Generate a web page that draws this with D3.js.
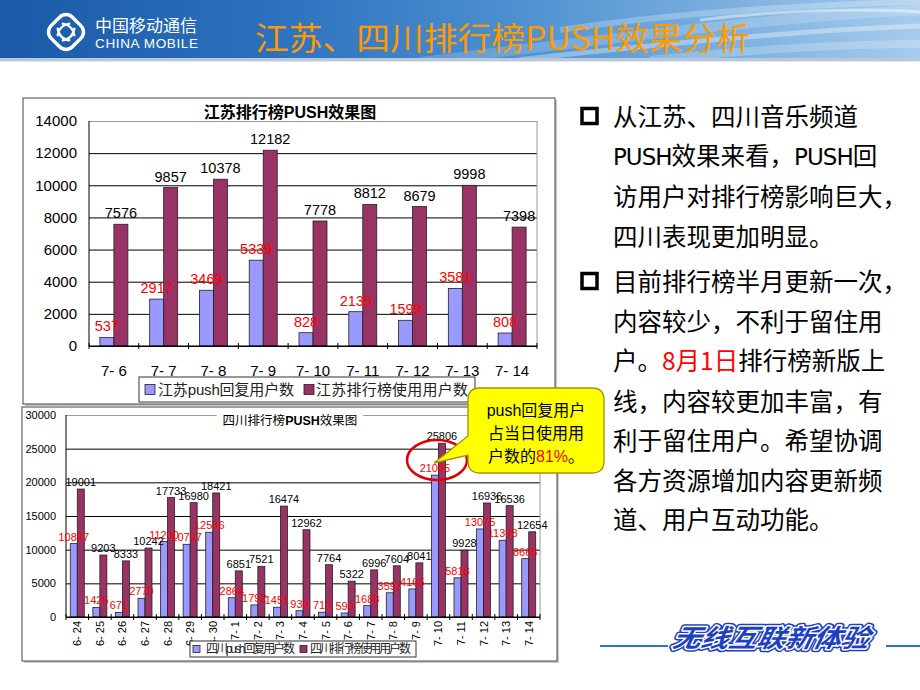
<!DOCTYPE html>
<html><head><meta charset="utf-8">
<script src="https://cdn.jsdelivr.net/npm/d3@7"></script>
<style>body{margin:0;background:#fff}svg{display:block}</style>
</head><body>
<svg id="c" width="920" height="690"></svg>
<script>
// ---- data ----
const jsDates = ["7-6","7-7","7-8","7-9","7-10","7-11","7-12","7-13","7-14"];
const jsPush  = [537,2917,3469,5339,828,2135,1599,3581,808];
const jsUsers = [7576,9857,10378,12182,7778,8812,8679,9998,7398];
const jsTicks = [0,2000,4000,6000,8000,10000,12000,14000];

const scDates = ["6-24","6-25","6-26","6-27","6-28","6-29","6-30","7-1","7-2","7-3","7-4","7-5","7-6","7-7","7-8","7-9","7-10","7-11","7-12","7-13","7-14"];
const scPush  = [10897,1425,671,2779,11200,10797,12586,2864,1792,1451,939,710,590,1688,3597,4165,21065,5818,13075,11398,8665];
const scUsers = [19001,9203,8333,10242,17733,16980,18421,6851,7521,16474,12962,7764,5322,6996,7604,8041,25806,9928,16936,16536,12654];
const scTicks = [0,5000,10000,15000,20000,25000,30000];

const seriesNames = {
  js: ["江苏push回复用户数","江苏排行榜使用用户数"],
  sc: ["四川push回复用户数","四川排行榜使用用户数"]
};

const svg = d3.select("#c");
const F = "'Liberation Sans', Arial, 'Noto Sans CJK SC', sans-serif";
const CJK = "'Noto Sans CJK SC', sans-serif";
const BLUE = "#9999FF", PLUM = "#993366";

// ---- header ----
const defs = svg.append("defs");
const hg = defs.append("linearGradient").attr("id","hg").attr("x1","0").attr("x2","1");
[["0%","#1a5aa6"],["28%","#2a6fbd"],["55%","#4b8fd0"],["80%","#7db1e0"],["100%","#a7cbec"]]
  .forEach(s=>hg.append("stop").attr("offset",s[0]).attr("stop-color",s[1]));
svg.append("rect").attr("x",0).attr("y",0).attr("width",920).attr("height",60).attr("fill","url(#hg)");
const sw = [
  ["M 420 62 C 600 40, 760 18, 920 10", 10, 0.18],
  ["M 500 62 C 650 45, 800 30, 920 26", 5, 0.35],
  ["M 560 30 C 680 12, 820 4, 920 2", 6, 0.25],
  ["M 650 60 C 760 48, 860 44, 920 44", 8, 0.22],
  ["M 700 20 C 780 10, 860 8, 920 12", 3, 0.45]
];
sw.forEach(s=>svg.append("path").attr("d",s[0]).attr("fill","none").attr("stroke","#fff").attr("stroke-width",s[1]).attr("opacity",s[2]));
svg.append("rect").attr("x",0).attr("y",58).attr("width",920).attr("height",3).attr("fill","#b8c8d8");
svg.append("rect").attr("x",0).attr("y",61).attr("width",920).attr("height",1).attr("fill","#e4e8ee");

// logo
const lg = svg.append("g").attr("transform","translate(66,32) rotate(45)");
lg.append("rect").attr("x",-15).attr("y",-15).attr("width",30).attr("height",30).attr("rx",9)
  .attr("fill","none").attr("stroke","#fff").attr("stroke-width",3.5);
lg.append("path").attr("d","M -9 -3 Q 0 -10 9 -3 M -9 3 Q 0 10 9 3 M -3 -9 Q -10 0 -3 9 M 3 -9 Q 10 0 3 9")
  .attr("fill","none").attr("stroke","#fff").attr("stroke-width",2.2);
svg.append("text").attr("x",95).attr("y",32).attr("font-family",CJK).attr("font-size",17)
  .attr("textLength",102).attr("fill","#fff").text("中国移动通信");
svg.append("text").attr("x",95).attr("y",48).attr("font-family",F).attr("font-size",13.5)
  .attr("textLength",103).attr("fill","#fff").text("CHINA MOBILE");
svg.append("text").attr("x",255).attr("y",50).attr("font-family",CJK).attr("font-size",32)
  .attr("textLength",495).attr("lengthAdjust","spacingAndGlyphs").attr("fill","#FF9900").text("江苏、四川排行榜PUSH效果分析");

// ---- generic chart ----
function chart(o){
  const g = svg.append("g");
  // outer box
  g.append("rect").attr("x",o.box[0]+2).attr("y",o.box[1]+2).attr("width",o.box[2]-o.box[0]).attr("height",o.box[3]-o.box[1]).attr("fill","#c8c8c8");
  g.append("rect").attr("x",o.box[0]).attr("y",o.box[1]).attr("width",o.box[2]-o.box[0]).attr("height",o.box[3]-o.box[1])
    .attr("fill","#fff").attr("stroke","#444").attr("stroke-width",1);
  const x = d3.scaleBand().domain(o.dates).range([o.left,o.right]);
  const y = d3.scaleLinear().domain([0,o.max]).range([o.bottom,o.top]);
  // grid
  const ga = g.append("g").attr("transform",`translate(${o.left},0)`)
    .call(d3.axisLeft(y).tickValues(o.ticks).tickSize(-(o.right-o.left)).tickPadding(o.tickPad).tickFormat(d3.format("d")));
  ga.select(".domain").remove();
  ga.selectAll(".tick line").attr("stroke",d=>d===o.max?"#999":"#000").attr("stroke-width",1);
  ga.selectAll(".tick text").attr("font-family",F).attr("font-size",o.tickFont).attr("fill","#000");
  // frame right + left axis
  g.append("line").attr("x1",o.right).attr("x2",o.right).attr("y1",o.top).attr("y2",o.bottom).attr("stroke","#999");
  g.append("line").attr("x1",o.left).attr("x2",o.left).attr("y1",o.top).attr("y2",o.bottom).attr("stroke","#000");
  // category ticks
  const edges = o.dates.map(d=>x(d)).concat([o.right]);
  g.selectAll(".ct").data(edges).join("line").attr("x1",d=>d).attr("x2",d=>d)
    .attr("y1",o.bottom-3).attr("y2",o.bottom+3).attr("stroke","#000");
  const bw = o.bw;
  // bars
  g.selectAll(".b1").data(o.dates).join("rect")
    .attr("x",d=>x(d)+x.bandwidth()/2-bw).attr("width",bw)
    .attr("y",(d,i)=>y(o.push[i])).attr("height",(d,i)=>o.bottom-y(o.push[i]))
    .attr("fill",BLUE).attr("stroke","#222").attr("stroke-width",0.8);
  g.selectAll(".b2").data(o.dates).join("rect")
    .attr("x",d=>x(d)+x.bandwidth()/2).attr("width",bw)
    .attr("y",(d,i)=>y(o.users[i])).attr("height",(d,i)=>o.bottom-y(o.users[i]))
    .attr("fill",PLUM).attr("stroke","#222").attr("stroke-width",0.8);
  // axis line
  g.append("line").attr("x1",o.left).attr("x2",o.right).attr("y1",o.bottom).attr("y2",o.bottom).attr("stroke","#000");
  // value labels
  g.selectAll(".l2").data(o.dates).join("text")
    .attr("x",d=>x(d)+x.bandwidth()/2+bw/2).attr("y",(d,i)=>y(o.users[i])-o.lblOff)
    .attr("text-anchor","middle").attr("font-family",F).attr("font-size",o.lblFont).attr("fill","#000")
    .text((d,i)=>o.users[i]);
  g.selectAll(".l1").data(o.dates).join("text")
    .attr("x",d=>x(d)+x.bandwidth()/2-bw/2).attr("y",(d,i)=>y(o.push[i])-o.lblOff)
    .attr("text-anchor","middle").attr("font-family",F).attr("font-size",o.lblFont).attr("fill","#FF0000")
    .text((d,i)=>o.push[i]);
  // x labels
  if(o.rotate){
    g.selectAll(".xl").data(o.dates).join("text")
      .attr("transform",d=>`translate(${x(d)+x.bandwidth()/2+4},${o.bottom+4}) rotate(-90)`)
      .attr("text-anchor","end").attr("font-family",F).attr("font-size",o.xFont).attr("fill","#000")
      .text(d=>d.replace("-","- "));
  } else {
    g.selectAll(".xl").data(o.dates).join("text")
      .attr("x",d=>x(d)+x.bandwidth()/2).attr("y",o.xLabelY)
      .attr("text-anchor","middle").attr("font-family",F).attr("font-size",o.xFont).attr("fill","#000")
      .text(d=>d.replace("-","- "));
  }
  // title
  const t = g.append("text").attr("x",o.titleX).attr("y",o.titleY).attr("text-anchor","middle")
    .attr("font-family",F).attr("font-size",o.titleFont).attr("font-weight",o.titleBold?"bold":"normal").attr("fill","#000");
  t.append("tspan").text(o.title[0]);
  t.append("tspan").attr("font-weight","bold").text("PUSH");
  t.append("tspan").text(o.title[1]);
  const bb = t.node().getBBox();
  g.insert("rect",()=>t.node()).attr("x",bb.x-6).attr("y",bb.y).attr("width",bb.width+12).attr("height",bb.height).attr("fill","#fff");
  // legend
  const L = o.legend;
  g.append("rect").attr("x",L.x).attr("y",L.y).attr("width",L.w).attr("height",L.h).attr("fill","#fff").attr("stroke","#333");
  L.items.forEach((it,i)=>{
    g.append("rect").attr("x",it.sx).attr("y",L.y+(L.h-L.sw)/2).attr("width",L.sw).attr("height",L.sw)
      .attr("fill",i?PLUM:BLUE).attr("stroke","#222").attr("stroke-width",0.8);
    g.append("text").attr("x",it.tx).attr("y",L.y+L.h/2+L.font*0.36).attr("font-family",F).attr("font-size",L.font)
      .attr("fill","#222").attr("textLength",it.tw).text(o.names[i]);
  });
  return {x,y};
}

chart({
  box:[23,98,555,404], dates:jsDates, push:jsPush, users:jsUsers, ticks:jsTicks, max:14000,
  left:89, right:537, top:121, bottom:346, tickPad:12, tickFont:15, bw:14,
  lblFont:14.5, lblOff:6, xFont:15, xLabelY:376, rotate:false,
  title:["江苏排行榜","效果图"], titleX:290, titleY:118, titleFont:16, titleBold:true,
  names:seriesNames.js,
  legend:{x:139,y:377,w:336,h:25,sw:10,font:15,items:[{sx:145,tx:158,tw:136},{sx:304,tx:316,tw:152}]}
});

const sc = chart({
  box:[22,407,557,661], dates:scDates, push:scPush, users:scUsers, ticks:scTicks, max:30000,
  left:66, right:540, top:415, bottom:617, tickPad:10, tickFont:11, bw:7,
  lblFont:11, lblOff:3, xFont:11, rotate:true,
  title:["四川排行榜","效果图"], titleX:290, titleY:425, titleFont:12.5, titleBold:false,
  names:seriesNames.sc,
  legend:{x:190,y:641,w:226,h:16,sw:7,font:12,items:[{sx:193,tx:206,tw:89},{sx:300,tx:310,tw:101}]}
});

// ---- annotation ----
svg.append("ellipse").attr("cx",437).attr("cy",460).attr("rx",30).attr("ry",20)
  .attr("fill","none").attr("stroke","#E00000").attr("stroke-width",2.5);
svg.append("path")
  .attr("d","M 480 388 H 592 Q 604 388 604 400 V 461 Q 604 473 592 473 H 480 Q 468 473 468 461 V 455 L 434 463 L 468 436 V 400 Q 468 388 480 388 Z")
  .attr("fill","#FFFF00").attr("stroke","#a89000").attr("stroke-width",1.3);
const cl = [["push回复用户"],["占当日使用用"],["户数的","81%","。"]];
cl.forEach((parts,i)=>{
  const t = svg.append("text").attr("x",536).attr("y",416+i*23).attr("text-anchor","middle")
    .attr("font-family",F).attr("font-size",16).attr("fill","#000");
  parts.forEach((p,j)=>t.append("tspan").attr("fill",(i===2&&j===1)?"#FF0000":"#000").text(p));
});

// ---- right text ----
const lines = [
  [["从江苏、四川音乐频道"]],
  [["PUSH","L"],["效果来看，"],["PUSH","L"],["回"]],
  [["访用户对排行榜影响巨大，"]],
  [["四川表现更加明显。"]],
  [["目前排行榜半月更新一次，"]],
  [["内容较少，不利于留住用"]],
  [["户。"],["8月1日","R"],["排行榜新版上"]],
  [["线，内容较更加丰富，有"]],
  [["利于留住用户。希望协调"]],
  [["各方资源增加内容更新频"]],
  [["道、用户互动功能。"]]
];
const ly = [117,156,197,237,282,322,361,402,441,481,520];
lines.forEach((parts,i)=>{
  const t = svg.append("text").attr("x",613).attr("y",ly[i]+9).attr("font-family",CJK).attr("font-size",24.5).attr("fill","#000");
  parts.forEach(p=>{
    const s = t.append("tspan").text(p[0]);
    if(p[1]==="L") s.attr("font-family","'DejaVu Sans', sans-serif").attr("font-size",23).attr("letter-spacing",-1);
    if(p[1]==="R") s.attr("fill","#FF0000");
  });
});
[116,281].forEach(cy=>svg.append("rect").attr("x",582).attr("y",cy-7.5).attr("width",15).attr("height",15)
  .attr("fill","none").attr("stroke","#000").attr("stroke-width",3.5));

// ---- footer ----
svg.append("line").attr("x1",600).attr("x2",668).attr("y1",646).attr("y2",646).attr("stroke","#2a78b8").attr("stroke-width",2);
svg.append("line").attr("x1",886).attr("x2",920).attr("y1",646).attr("y2",646).attr("stroke","#2a78b8").attr("stroke-width",2);
[["#1d3fc4",6,"none"],["#fff",3,"none"],["none",0,"#1d3fc4"]].forEach(s=>{
  svg.append("text").attr("x",672).attr("y",647).attr("font-family",CJK).attr("font-weight","bold")
    .attr("font-style","italic").attr("font-size",25).attr("textLength",196).attr("lengthAdjust","spacingAndGlyphs")
    .attr("transform","skewX(-12) translate(137,0)")
    .attr("fill",s[2]).attr("stroke",s[0]).attr("stroke-width",s[1]).attr("stroke-linejoin","round")
    .text("无线互联新体验");
});
</script>
</body></html>
